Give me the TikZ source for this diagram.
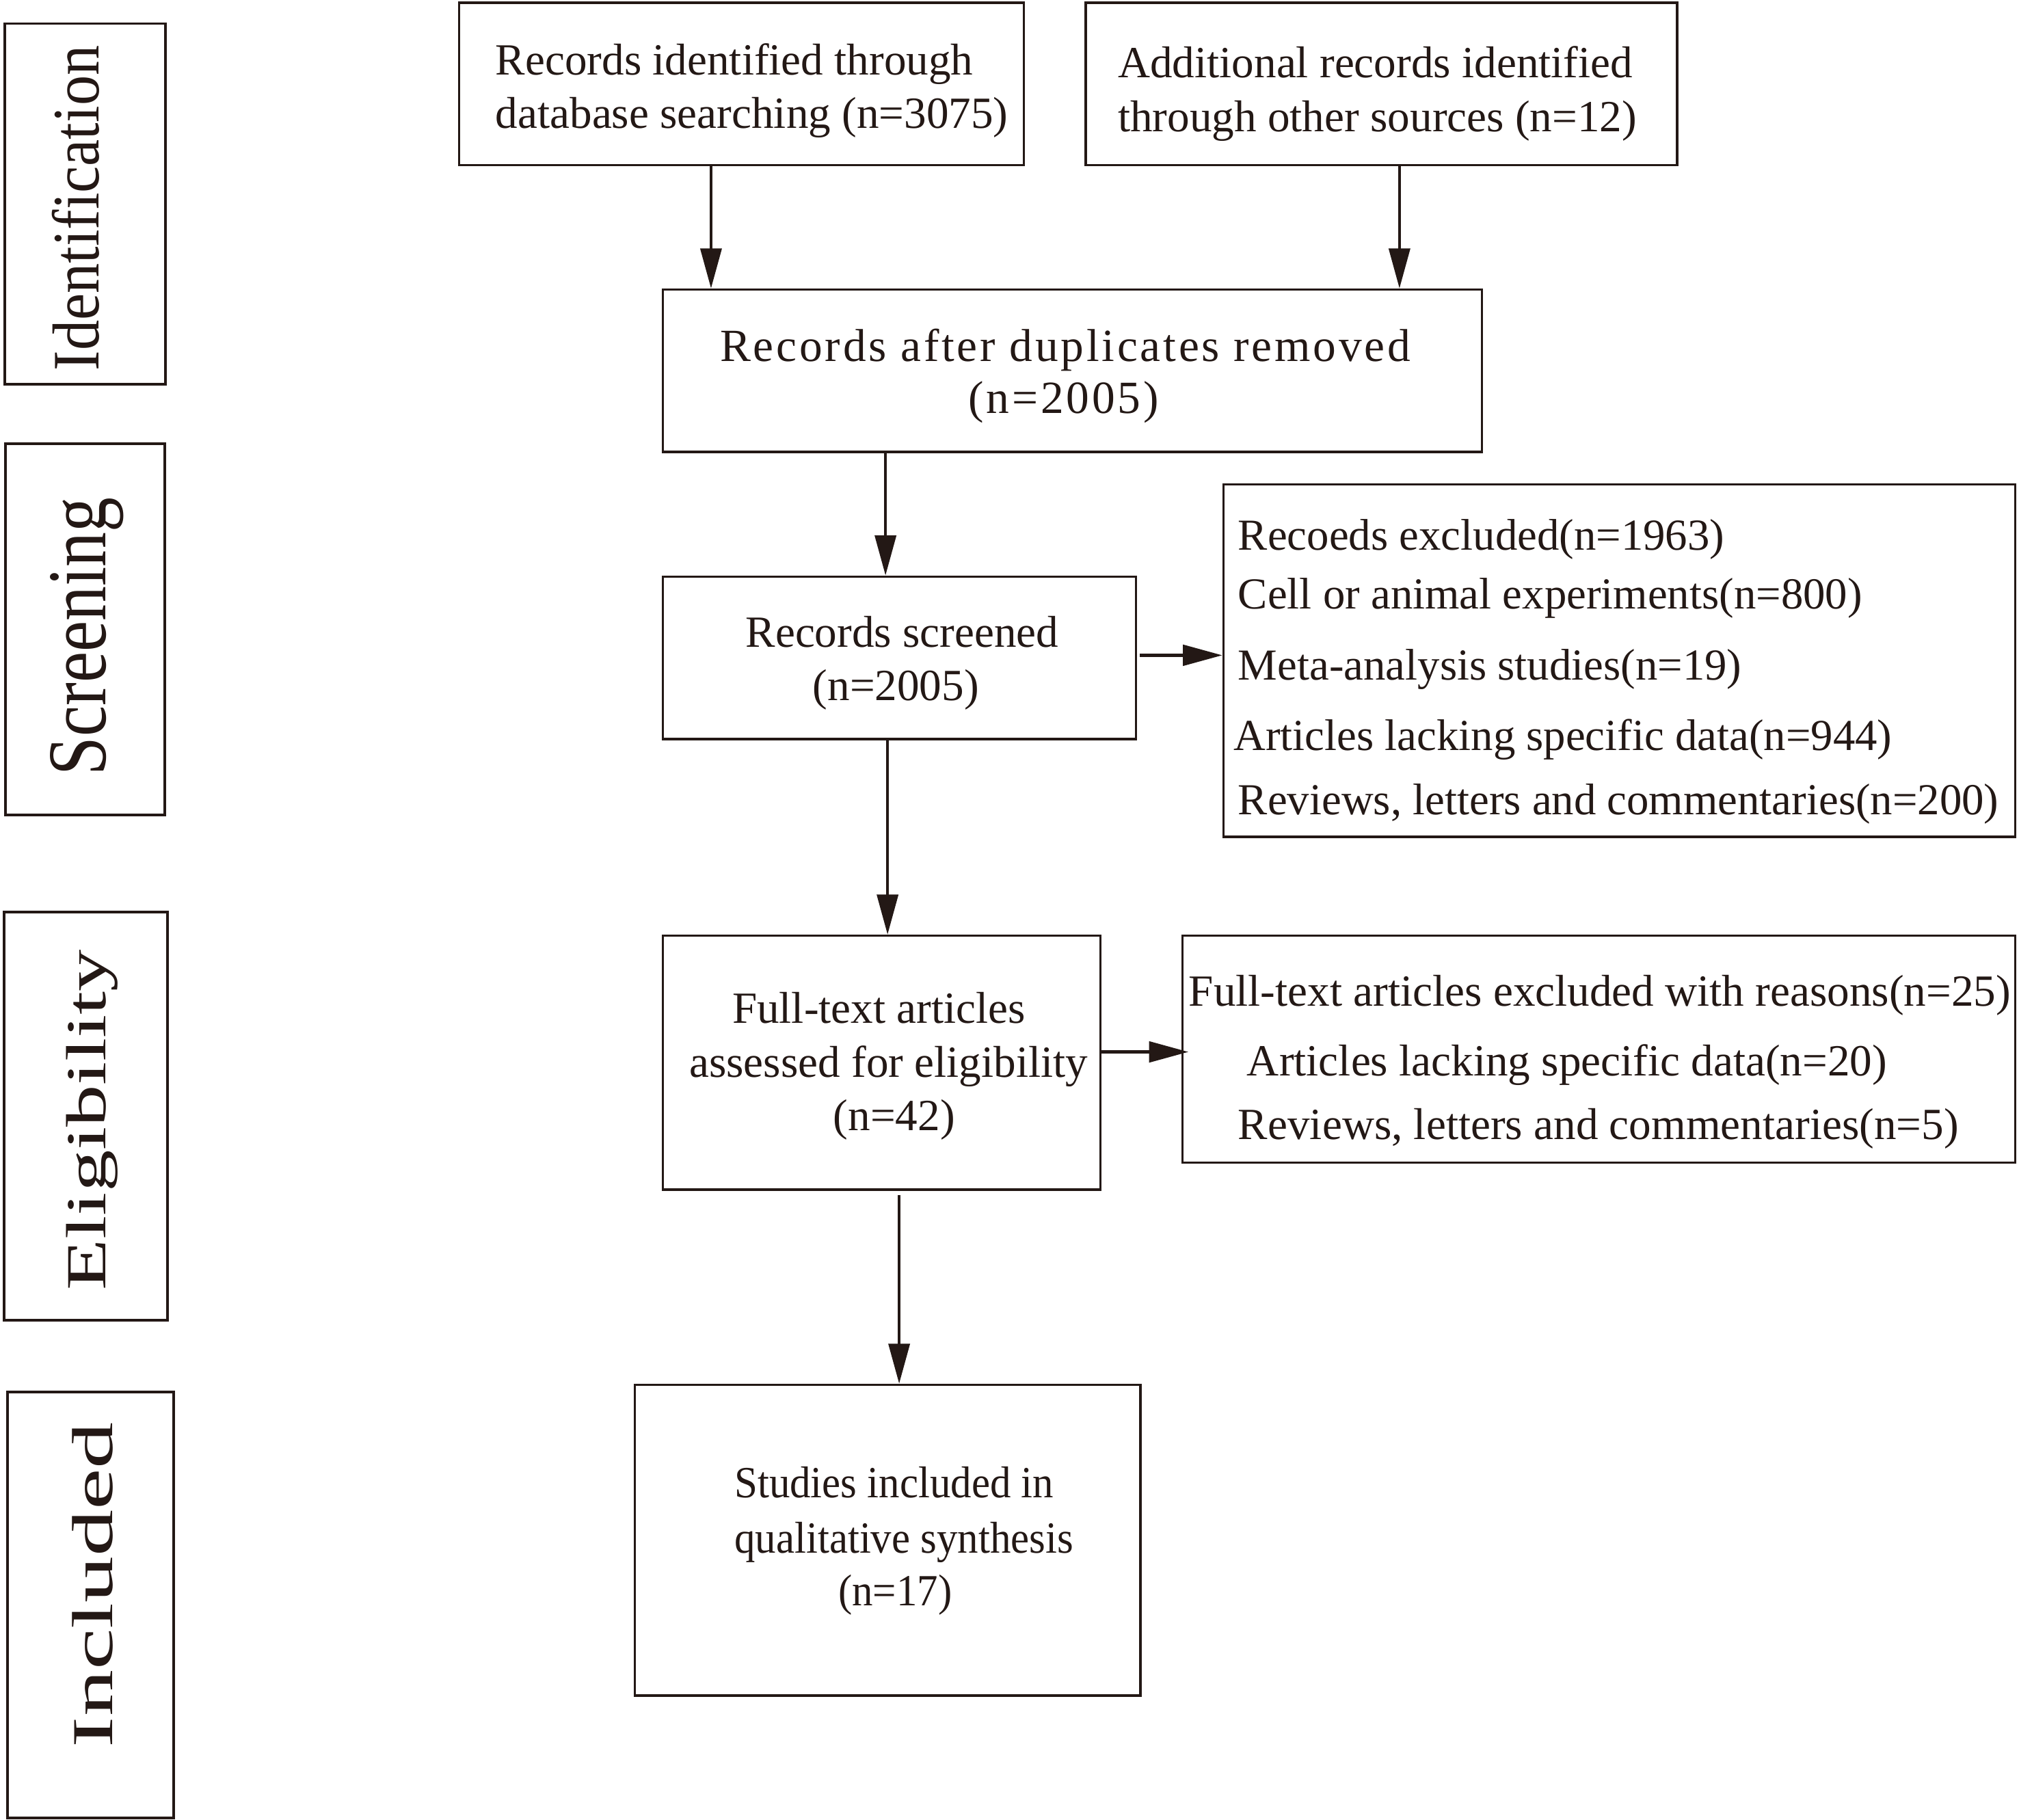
\documentclass[tikz,border=0pt]{standalone}
\usepackage{fontspec}
\usepackage{graphicx}
\setmainfont{Liberation Serif}
\newfontfamily\stagefont{Liberation Serif}
\usetikzlibrary{arrows.meta}
\definecolor{ink}{RGB}{35,24,21}
\begin{document}
\begin{tikzpicture}[x=0.5pt,y=-0.5pt,
  box/.style={draw=ink, line width=0.93pt, inner sep=0pt},
  stagebox/.style={draw=ink, line width=1pt, inner sep=0pt},
  txt/.style={anchor=base west, inner sep=0pt, text=ink, font=\fontsize{17.3}{20.75}\selectfont},
  etxt/.style={txt, font=\fontsize{17.2}{20.6}\selectfont},
  stagelbl/.style={rotate=90, anchor=base, inner sep=0pt, text=ink},
  arr/.style={draw=ink, line width=1.06pt, -{Triangle[length=15.5pt,width=8.2pt]}},
  harr/.style={draw=ink, line width=1.25pt, -{Triangle[length=15.3pt,width=8pt]}}]
\useasboundingbox (0,0) rectangle (1568,1413.46);
\fill[white] (0,0) rectangle (1568,1413.46);

% stage boxes
\node[stagebox, minimum width=62.4pt, minimum height=140.15pt] (sI) at (66.3,158.45) {};
\node[stagebox, minimum width=61.9pt, minimum height=144.15pt] (sS) at (66.1,488.75) {};
\node[stagebox, minimum width=63.4pt, minimum height=158.55pt] (sE) at (66.6,866.85) {};
\node[stagebox, minimum width=64.45pt, minimum height=165.35pt] (sN) at (70.45,1246.55) {};
\node[stagelbl] (lI) at (76.6,161.7) {\resizebox{126.25pt}{18.15pt}{\stagefont Identification}};
\node[stagelbl] (lS) at (81.9,494.4) {\resizebox{108pt}{21.5pt}{\stagefont Screening}};
\node[stagelbl] (lE) at (82.2,869.9) {\resizebox{132.15pt}{15.27pt}{\stagefont Eligibility}};
\node[stagelbl] (lN) at (87.3,1231) {\resizebox{126.25pt}{15.6pt}{\stagefont Included}};

% main boxes
\node[box, minimum width=219.3pt, minimum height=63.1pt] (A) at (575.8,65.2) {};
\node[box, minimum width=229.65pt, minimum height=63.1pt] (B) at (1072.85,65.2) {};
\node[box, minimum width=318pt, minimum height=63.1pt] (C) at (832.9,288) {};
\node[box, minimum width=183.6pt, minimum height=63.1pt] (D) at (698.5,510.9) {};
\node[box, minimum width=307.45pt, minimum height=136.8pt] (E) at (1257.65,513) {};
\node[box, minimum width=169.9pt, minimum height=98.65pt] (F) at (684.8,825.35) {};
\node[box, minimum width=323.4pt, minimum height=88.05pt] (G) at (1241.7,814.75) {};
\node[box, minimum width=196.3pt, minimum height=120.7pt] (H) at (689.4,1196.2) {};

% texts
\node[txt] (tA1) at (384.5,58.1) {Records identified through};
\node[txt] (tA2) at (384.5,99.6) {database searching (n=3075)};
\node[txt] (tB1) at (867.9,60.4) {Additional records identified};
\node[txt] (tB2) at (867.9,102) {through other sources (n=12)};
\node[txt, font=\fontsize{17.9}{21}\selectfont\addfontfeature{LetterSpace=5.6}] (tC1) at (558.8,280.5) {Records after duplicates removed};
\node[txt, font=\fontsize{17.9}{21}\selectfont\addfontfeature{LetterSpace=5.6}] (tC2) at (751.9,321) {(n=2005)};
\node[txt] (tD1) at (578.7,502.4) {Records screened};
\node[txt] (tD2) at (630.8,544) {(n=2005)};
\node[etxt] (tE1) at (961.2,427.2) {Recoeds excluded(n=1963)};
\node[etxt] (tE2) at (961.2,472.9) {Cell or animal experiments(n=800)};
\node[etxt] (tE3) at (961.2,528.2) {Meta-analysis studies(n=19)};
\node[etxt] (tE4) at (957.7,583) {Articles lacking specific data(n=944)};
\node[etxt] (tE5) at (961.2,632.4) {Reviews, letters and commentaries(n=200)};
\node[txt] (tF1) at (568.3,794.8) {Full-text articles};
\node[txt] (tF2) at (535,836.4) {assessed for eligibility};
\node[txt] (tF3) at (646.8,878) {(n=42)};
\node[txt] (tG1) at (922.9,781.5) {Full-text articles excluded with reasons(n=25)};
\node[txt] (tG2) at (968.1,835.5) {Articles lacking specific data(n=20)};
\node[txt] (tG3) at (961.2,885.1) {Reviews, letters and commentaries(n=5)};
\node[txt] (tH1) at (570,1163.2) {\scalebox{0.935}[1]{Studies included in}};
\node[txt] (tH2) at (570,1206.2) {\scalebox{0.935}[1]{qualitative synthesis}};
\node[txt] (tH3) at (650.6,1247.2) {\scalebox{0.935}[1]{(n=17)}};

% connectors
\draw[arr] ([xshift=-11.8pt]A.south) -- ([xshift=-11.8pt]A.south |- C.north);
\draw[arr] ([xshift=7pt]B.south) -- ([xshift=7pt]B.south |- C.north);
\draw[arr] ([xshift=-72.6pt]C.south) -- ([xshift=-72.6pt]C.south |- D.north);
\draw[arr] ([xshift=-4.6pt]D.south) -- ([xshift=-4.6pt]D.south |- F.north);
\draw[arr, shorten <=1.5pt] ([xshift=6.75pt]F.south) -- ([xshift=6.75pt]F.south |- H.north);
\draw[harr, shorten <=1pt] ([yshift=1pt]D.east) -- ([yshift=1pt]D.east -| E.west);
\draw[harr, shorten >=-2.8pt] ([yshift=4.2pt]F.east) -- ([yshift=4.2pt]F.east -| G.west);
\end{tikzpicture}
\end{document}
